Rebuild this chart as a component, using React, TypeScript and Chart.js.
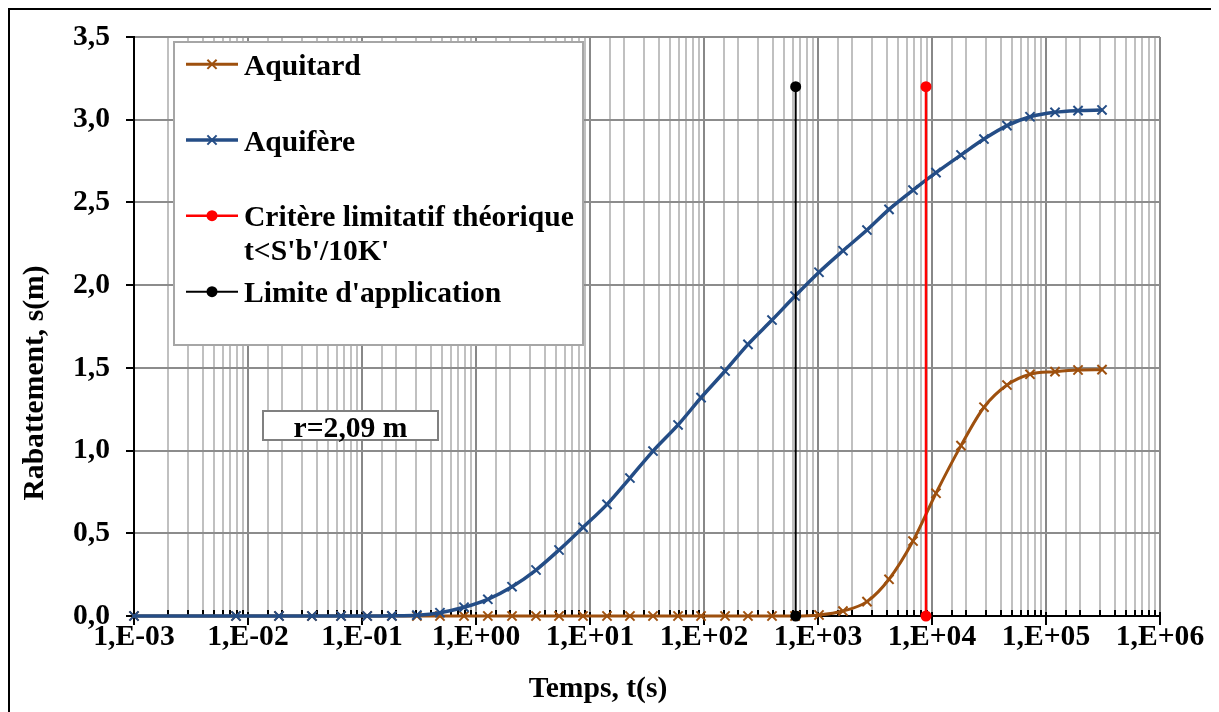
import React, { useEffect, useRef } from 'react';
import { Chart, registerables } from 'chart.js';

Chart.register(...registerables);

// ---- data ----
const times = [0.001, 0.00785, 0.0187, 0.0364, 0.0655, 0.111, 0.183, 0.303, 0.483, 0.785, 1.27, 2.07, 3.36, 5.35, 8.69, 14.1, 22.4, 35.7, 59.2, 94.2, 153, 243, 395, 629, 1020, 1656, 2690, 4197, 6813, 10840, 17960, 28580, 45500, 72400, 120000, 191000, 310000];

const aquitard = [0, 0, 0, 0, 0, 0, 0, 0, 0, 0, 0, 0, 0, 0, 0, 0, 0, 0, 0, 0, 0, 0, 0, 0, 0.006, 0.03, 0.087, 0.222, 0.453, 0.742, 1.03, 1.262, 1.396, 1.461, 1.477, 1.487, 1.489];

const aquifere = [0, 0, 0, 0, 0, 0, 0.001, 0.005, 0.02, 0.053, 0.101, 0.177, 0.278, 0.399, 0.536, 0.675, 0.834, 0.997, 1.155, 1.32, 1.481, 1.642, 1.789, 1.934, 2.078, 2.208, 2.333, 2.458, 2.575, 2.68, 2.787, 2.883, 2.964, 3.018, 3.045, 3.055, 3.059];

const critereT = [8855, 8855];
const critereS = [0, 3.2];
const limiteT = [637, 637];
const limiteS = [0, 3.2];

const legendLines = [
  ['Aquitard'],
  ['Aquifère'],
  ['Critère limitatif théorique', "t<S'b'/10K'"],
  ["Limite d'application"],
];
const annotationText = 'r=2,09 m';
const xTitle = 'Temps, t(s)';
const yTitle = 'Rabattement, s(m)';

const BROWN = '#9E500E';
const BLUE = '#244D86';
const RED = '#FF0000';
const BLACK = '#000000';
const FONT = "'Times New Roman', 'Liberation Serif', serif";
const FS = 29.6;

const isPow10 = (v: number) => {
  if (!(v > 0)) return false;
  const l = Math.log10(v);
  return Math.abs(l - Math.round(l)) < 1e-9;
};
const fmtPow = (v: number) => {
  const e = Math.round(Math.log10(v));
  return '1,E' + (e < 0 ? '-' : '+') + String(Math.abs(e)).padStart(2, '0');
};

function crossRot(ctx: CanvasRenderingContext2D, x: number, y: number, r: number) {
  const d = r * Math.SQRT1_2;
  ctx.moveTo(x - d, y - d);
  ctx.lineTo(x + d, y + d);
  ctx.moveTo(x + d, y - d);
  ctx.lineTo(x - d, y + d);
}

const overlayPlugin = {
  id: 'overlay',
  beforeDatasetsDraw(chart: any) {
    const ctx = chart.ctx as CanvasRenderingContext2D;
    const xs = chart.scales.x;
    const ys = chart.scales.y;
    const { left, bottom } = chart.chartArea;
    ctx.save();
    ctx.strokeStyle = '#000';
    ctx.lineWidth = 2;
    xs.ticks.forEach((t: any) => {
      const px = Math.round(xs.getPixelForValue(t.value));
      ctx.beginPath();
      if (isPow10(t.value)) {
        ctx.moveTo(px, bottom - 4);
        ctx.lineTo(px, bottom + 9);
      } else {
        ctx.moveTo(px, bottom - 6);
        ctx.lineTo(px, bottom);
      }
      ctx.stroke();
    });
    ys.ticks.forEach((t: any) => {
      const py = Math.round(ys.getPixelForValue(t.value));
      ctx.beginPath();
      ctx.moveTo(left - 8, py);
      ctx.lineTo(left, py);
      ctx.stroke();
    });
    ctx.restore();
  },
  afterDraw(chart: any) {
    const ctx = chart.ctx as CanvasRenderingContext2D;
    const { left, top } = chart.chartArea;
    ctx.save();

    // axis titles
    ctx.fillStyle = '#000';
    ctx.font = `bold ${FS}px ${FONT}`;
    ctx.textAlign = 'center';
    ctx.textBaseline = 'middle';
    ctx.fillText(xTitle, 588, 679);
    ctx.save();
    ctx.translate(25, 373);
    ctx.rotate(-Math.PI / 2);
    ctx.fillText(yTitle, 0, 0);
    ctx.restore();

    // annotation box
    const bx = left + 129, by = top + 374, bw = 175, bh = 29;
    ctx.fillStyle = '#fff';
    ctx.fillRect(bx, by, bw, bh);
    ctx.strokeStyle = '#808080';
    ctx.lineWidth = 2;
    ctx.strokeRect(bx, by, bw, bh);
    ctx.fillStyle = '#000';
    ctx.textBaseline = 'alphabetic';
    ctx.textAlign = 'center';
    ctx.fillText(annotationText, bx + bw / 2, by + 26);

    // legend
    const lx = left + 40, ly = top + 5, lw = 409, lh = 303;
    ctx.fillStyle = '#fff';
    ctx.fillRect(lx, ly, lw, lh);
    ctx.strokeStyle = '#A6A6A6';
    ctx.lineWidth = 2;
    ctx.strokeRect(lx, ly, lw, lh);

    const ds = chart.data.datasets;
    const rowY = [top + 27.3, top + 103, top + 178.7, top + 254.7];
    ctx.textAlign = 'left';
    ctx.textBaseline = 'alphabetic';
    ds.forEach((d: any, i: number) => {
      const y = rowY[i];
      const x0 = lx + 12, x1 = lx + 64, xm = (x0 + x1) / 2;
      ctx.strokeStyle = d.borderColor;
      ctx.lineWidth = d.borderWidth;
      ctx.beginPath();
      ctx.moveTo(x0, y);
      ctx.lineTo(x1, y);
      ctx.stroke();
      if (d.pointStyle === 'crossRot') {
        ctx.lineWidth = d.pointBorderWidth;
        ctx.beginPath();
        crossRot(ctx, xm, y, d.pointRadius);
        ctx.stroke();
      } else {
        ctx.fillStyle = d.pointBackgroundColor;
        ctx.beginPath();
        ctx.arc(xm, y, d.pointRadius, 0, Math.PI * 2);
        ctx.fill();
      }
      ctx.fillStyle = '#000';
      legendLines[i].forEach((line, k) => {
        ctx.fillText(line, lx + 70, y + 10.5 + k * 34);
      });
    });
    ctx.restore();
  },
};

export default function App() {
  const ref = useRef<HTMLCanvasElement>(null);

  useEffect(() => {
    if (!ref.current) return;
    const pts = (xs: number[], ys: number[]) => xs.map((x, i) => ({ x, y: ys[i] }));
    const chart = new Chart(ref.current, {
      type: 'line',
      data: {
        datasets: [
          {
            label: legendLines[0].join(' '),
            data: pts(times, aquitard),
            borderColor: BROWN,
            backgroundColor: BROWN,
            borderWidth: 3,
            pointStyle: 'crossRot',
            pointRadius: 6.5,
            pointBorderWidth: 2,
            pointBorderColor: BROWN,
            pointBackgroundColor: BROWN,
            cubicInterpolationMode: 'monotone',
            order: 4,
            clip: false,
          } as any,
          {
            label: legendLines[1].join(' '),
            data: pts(times, aquifere),
            borderColor: BLUE,
            backgroundColor: BLUE,
            borderWidth: 3.5,
            pointStyle: 'crossRot',
            pointRadius: 6.5,
            pointBorderWidth: 2,
            pointBorderColor: BLUE,
            pointBackgroundColor: BLUE,
            cubicInterpolationMode: 'monotone',
            order: 3,
            clip: false,
          } as any,
          {
            label: legendLines[2].join(' '),
            data: pts(critereT, critereS),
            borderColor: RED,
            backgroundColor: RED,
            borderWidth: 2.5,
            pointStyle: 'circle',
            pointRadius: 5.5,
            pointBorderWidth: 0,
            pointBorderColor: RED,
            pointBackgroundColor: RED,
            order: 2,
            clip: false,
          } as any,
          {
            label: legendLines[3].join(' '),
            data: pts(limiteT, limiteS),
            borderColor: BLACK,
            backgroundColor: BLACK,
            borderWidth: 2,
            pointStyle: 'circle',
            pointRadius: 5.5,
            pointBorderWidth: 0,
            pointBorderColor: BLACK,
            pointBackgroundColor: BLACK,
            order: 1,
            clip: false,
          } as any,
        ],
      },
      options: {
        animation: false,
        responsive: false,
        devicePixelRatio: 1,
        events: [],
        layout: { padding: { left: 0, right: 57, top: 27, bottom: 0 } },
        plugins: {
          legend: { display: false },
          tooltip: { enabled: false },
          title: { display: false },
        },
        scales: {
          x: {
            type: 'logarithmic',
            min: 0.001,
            max: 1000000,
            afterFit: (s: any) => { s.height = 96; s.paddingLeft = 20; s.paddingRight = 20; },
            border: { display: true, color: '#000', width: 2 },
            grid: {
              drawTicks: false,
              lineWidth: 2,
              color: (c: any) => (c.tick && isPow10(c.tick.value) ? '#888888' : '#C0C0C0'),
            },
            ticks: {
              autoSkip: false,
              maxRotation: 0,
              minRotation: 0,
              padding: 4,
              color: '#000',
              font: { family: FONT, size: FS, weight: 'bold' },
              callback: (v: any) => (isPow10(Number(v)) ? fmtPow(Number(v)) : ''),
            },
          },
          y: {
            type: 'linear',
            min: 0,
            max: 3.5,
            afterFit: (s: any) => { s.width = 124; s.paddingTop = 10; s.paddingBottom = 10; },
            border: { display: true, color: '#000', width: 2 },
            grid: { drawTicks: false, lineWidth: 2, color: '#8C8C8C' },
            ticks: {
              stepSize: 0.5,
              padding: 24,
              color: '#000',
              font: { family: FONT, size: FS, weight: 'bold' },
              callback: (v: any) => Number(v).toFixed(1).replace('.', ','),
            },
          },
        },
      } as any,
      plugins: [overlayPlugin],
    });
    return () => chart.destroy();
  }, []);

  return (
    <div
      style={{
        width: 1207,
        height: 702,
        borderTop: '2px solid #000',
        borderLeft: '2px solid #000',
        borderRight: '2px solid #000',
        background: '#fff',
        overflow: 'hidden',
      }}
    >
      <canvas ref={ref} width={1207} height={702} style={{ display: 'block', width: 1207, height: 702 }} />
    </div>
  );
}
